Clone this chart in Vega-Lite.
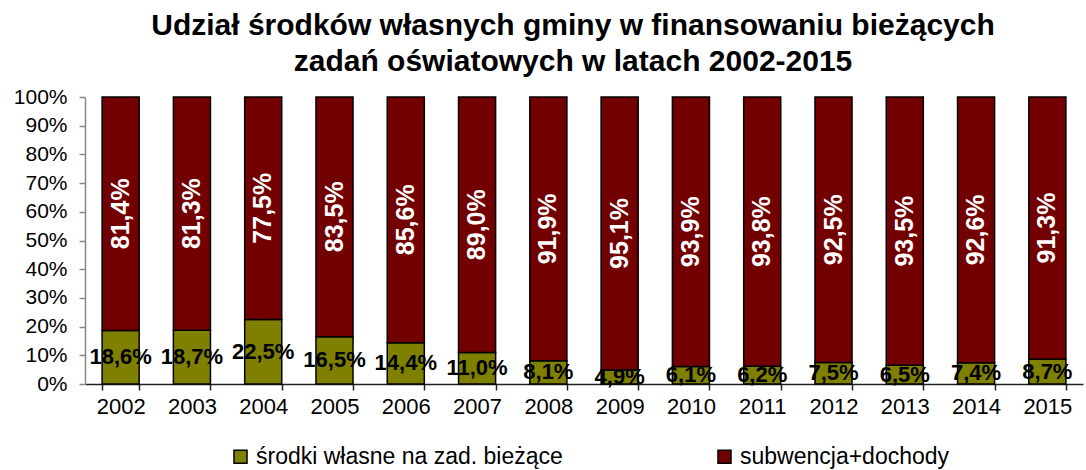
{
  "$schema": "https://vega.github.io/schema/vega-lite/v6.json",
  "width": 998,
  "height": 287,
  "autosize": {"type": "none"},
  "padding": {"left": 85, "top": 97, "right": 3, "bottom": 86},
  "background": "white",
  "config": {
    "locale": {"number": {"decimal": ",", "thousands": " ", "grouping": [3], "currency": ["", " zł"]}},
    "view": {"stroke": null},
    "font": "Liberation Sans"
  },
  "title": {
    "text": ["Udział środków własnych gminy w finansowaniu bieżących", "zadań oświatowych w latach 2002-2015"],
    "fontSize": 30,
    "font": "Liberation Sans",
    "fontWeight": "bold",
    "color": "black",
    "lineHeight": 36,
    "anchor": "middle",
    "offset": 9,
    "dx": -11
  },
  "data": {
    "values": [
      {"year": "2002", "series": "środki własne na zad. bieżące", "value": 0.186},
      {"year": "2002", "series": "subwencja+dochody", "value": 0.814},
      {"year": "2003", "series": "środki własne na zad. bieżące", "value": 0.187},
      {"year": "2003", "series": "subwencja+dochody", "value": 0.813},
      {"year": "2004", "series": "środki własne na zad. bieżące", "value": 0.225},
      {"year": "2004", "series": "subwencja+dochody", "value": 0.775},
      {"year": "2005", "series": "środki własne na zad. bieżące", "value": 0.165},
      {"year": "2005", "series": "subwencja+dochody", "value": 0.835},
      {"year": "2006", "series": "środki własne na zad. bieżące", "value": 0.144},
      {"year": "2006", "series": "subwencja+dochody", "value": 0.856},
      {"year": "2007", "series": "środki własne na zad. bieżące", "value": 0.110},
      {"year": "2007", "series": "subwencja+dochody", "value": 0.890},
      {"year": "2008", "series": "środki własne na zad. bieżące", "value": 0.081},
      {"year": "2008", "series": "subwencja+dochody", "value": 0.919},
      {"year": "2009", "series": "środki własne na zad. bieżące", "value": 0.049},
      {"year": "2009", "series": "subwencja+dochody", "value": 0.951},
      {"year": "2010", "series": "środki własne na zad. bieżące", "value": 0.061},
      {"year": "2010", "series": "subwencja+dochody", "value": 0.939},
      {"year": "2011", "series": "środki własne na zad. bieżące", "value": 0.062},
      {"year": "2011", "series": "subwencja+dochody", "value": 0.938},
      {"year": "2012", "series": "środki własne na zad. bieżące", "value": 0.075},
      {"year": "2012", "series": "subwencja+dochody", "value": 0.925},
      {"year": "2013", "series": "środki własne na zad. bieżące", "value": 0.065},
      {"year": "2013", "series": "subwencja+dochody", "value": 0.935},
      {"year": "2014", "series": "środki własne na zad. bieżące", "value": 0.074},
      {"year": "2014", "series": "subwencja+dochody", "value": 0.926},
      {"year": "2015", "series": "środki własne na zad. bieżące", "value": 0.087},
      {"year": "2015", "series": "subwencja+dochody", "value": 0.913}
    ]
  },
  "encoding": {
    "x": {
      "field": "year",
      "type": "ordinal",
      "title": null,
      "scale": {"paddingInner": 0.48, "paddingOuter": 0.24},
      "axis": {
        "labelAngle": 0,
        "labelFontSize": 22,
        "labelColor": "black",
        "labelPadding": 6,
        "domainColor": "#222222",
        "domainWidth": 1.5,
        "tickColor": "#222222",
        "tickWidth": 1.5,
        "tickSize": 6,
        "tickBand": "extent",
        "grid": false
      }
    },
    "y": {
      "field": "value",
      "type": "quantitative",
      "stack": "zero",
      "scale": {"domain": [0, 1], "nice": false},
      "title": null,
      "axis": {
        "format": ".0%",
        "values": [0, 0.1, 0.2, 0.3, 0.4, 0.5, 0.6, 0.7, 0.8, 0.9, 1],
        "labelFontSize": 21,
        "labelColor": "black",
        "labelPadding": 12,
        "domainColor": "#888888",
        "domainWidth": 1.5,
        "tickColor": "#888888",
        "tickWidth": 1.5,
        "tickSize": 6,
        "grid": false
      }
    },
    "order": {"field": "series", "sort": "descending"},
    "detail": {"field": "series"}
  },
  "layer": [
    {
      "mark": {"type": "bar", "stroke": "black", "strokeWidth": 1.5},
      "encoding": {
        "color": {
          "field": "series",
          "type": "nominal",
          "scale": {"domain": ["środki własne na zad. bieżące", "subwencja+dochody"], "range": ["#7f7f00", "#730000"]},
          "legend": {
            "orient": "none",
            "legendX": 144,
            "legendY": 348,
            "direction": "horizontal",
            "title": null,
            "symbolType": "square",
            "symbolSize": 170,
            "symbolStrokeColor": "black",
            "symbolStrokeWidth": 1.5,
            "labelFontSize": 23,
            "labelColor": "black",
            "labelLimit": 0,
            "labelOffset": 4,
            "columnPadding": 150
          }
        }
      }
    },
    {
      "mark": {"type": "text", "fontWeight": "bold", "fontSize": 22, "color": "black", "baseline": "middle", "align": "center"},
      "encoding": {
        "y": {"field": "value", "type": "quantitative", "stack": "zero", "bandPosition": 0.5},
        "text": {"field": "value", "type": "quantitative", "format": ".1%"},
        "opacity": {"condition": {"test": "datum.series === 'subwencja+dochody'", "value": 0}, "value": 1}
      }
    },
    {
      "mark": {"type": "text", "fontWeight": "bold", "fontSize": 25, "color": "white", "angle": 270, "baseline": "middle", "align": "center"},
      "encoding": {
        "y": {"field": "value", "type": "quantitative", "stack": "zero", "bandPosition": 0.5},
        "text": {"field": "value", "type": "quantitative", "format": ".1%"},
        "opacity": {"condition": {"test": "datum.series === 'subwencja+dochody'", "value": 1}, "value": 0}
      }
    }
  ]
}
